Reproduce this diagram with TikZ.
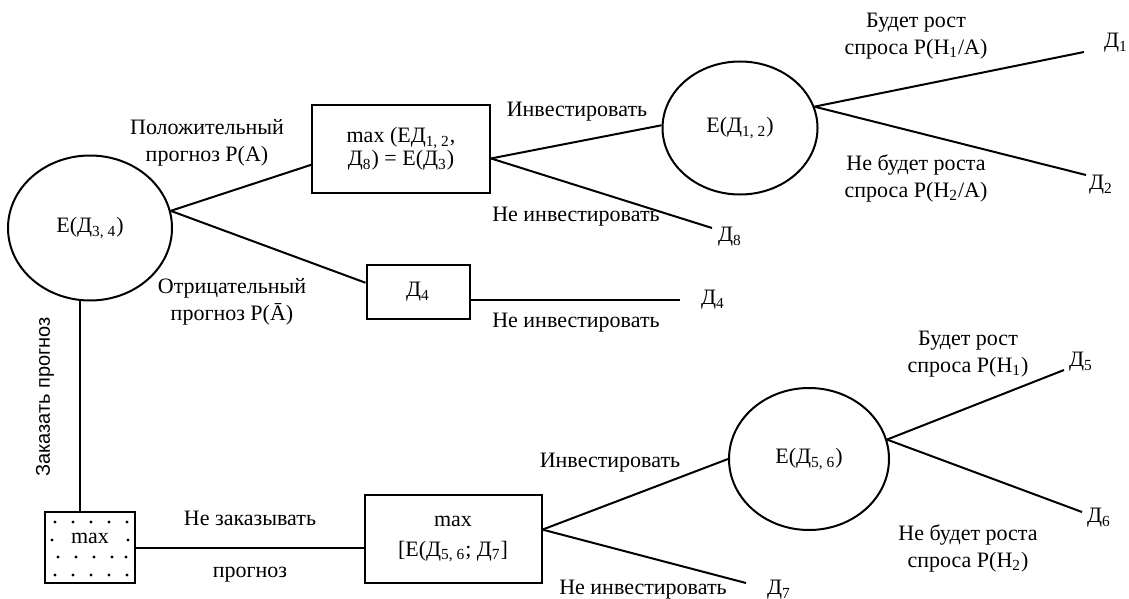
\documentclass[tikz,border=0pt]{standalone}
\usepackage{fontspec}
\setmainfont{Liberation Serif}
\newfontfamily\rotfont{Liberation Sans}
\usetikzlibrary{shapes, positioning, calc}
\newcommand{\Dn}[1]{Д\textsubscript{#1}}
\tikzset{block/.style={draw, rectangle, inner sep=1pt, align=center},
         chance/.style={draw, ellipse, inner sep=1pt},
         lbl/.style={align=center, inner sep=0pt},
         every node/.append style={font=\fontsize{11}{13.5}\selectfont}}

\begin{document}
\begin{tikzpicture}[x=0.5pt, y={(0pt,-0.5pt)}, line width=1pt]
        \useasboundingbox (0,0) rectangle (1129,599);

        % chance nodes and decision boxes
        \node[chance, minimum width=82pt, minimum height=72.5pt] (c34) at (90,228) {E(\Dn{3, 4})};
        \node[block, minimum width=89pt, minimum height=44pt, font=\fontsize{11}{9.5}\selectfont] (b1) at (401,149) {max (Е\Dn{1, 2},\\ \Dn{8}) = E(\Dn{3})};
        \node[block, minimum width=51.5pt, minimum height=27pt] (d4box) at (418,292) {\Dn{4}};
        \node[chance, minimum width=77.5pt, minimum height=66.5pt] (c12) at (740,128) {E(\Dn{1, 2})};
        \node[block, minimum width=45pt, minimum height=35.5pt] (mx) at (90,547.5) {};
        \node[block, minimum width=88.5pt, minimum height=44pt, font=\fontsize{11}{15}\selectfont] (b2) at (453,539) {max\\ {[}E(\Dn{5, 6}; \Dn{7}{]}};
        \node[chance, minimum width=80pt, minimum height=71pt] (c56) at (809,459) {E(\Dn{5, 6})};

        % dots of the max box
        \foreach \dx/\dy in {55/522, 73/522, 91/522, 109/522, 127/522,
                             52/540, 128/540,
                             58/557, 76/557, 94/557, 112/557, 126/557,
                             55/575, 73/575, 91/575, 109/575, 127/575}
            \fill (\dx,\dy) circle (0.8pt);
        \node[inner sep=0pt] (mxt) at (90,538) {max};

        % outcomes
        \coordinate (e1) at (1084,52);
        \coordinate (e2) at (1086,175);
        \coordinate (e8) at (712,228);
        \coordinate (e4) at (680,300);
        \coordinate (e5) at (1064,370);
        \coordinate (e6) at (1082,512);
        \coordinate (e7) at (746,583);
        \node (d1) at (1116,43) {\Dn{1}};
        \node (d2) at (1101,185) {\Dn{2}};
        \node (d8) at (730,237) {\Dn{8}};
        \node (d4) at (713,300) {\Dn{4}};
        \node (d5) at (1081,362) {\Dn{5}};
        \node (d6) at (1099,518) {\Dn{6}};
        \node (d7) at (779,590) {\Dn{7}};

        % branches
        \draw (c34.12) -- (b1.190);
        \draw (c34.12) -- (d4box.170);
        \draw (c34.262) -- (c34.262 |- mx.north);
        \draw (b1.354) -- (c12.178);
        \draw (b1.354) -- (e8);
        \draw (c12.16) -- (e1);
        \draw (c12.16) -- (e2);
        \draw (d4box.351) -- (d4box.351 -| e4);
        \draw (mx.east) -- (mx.east -| b2.west);
        \draw (b2.6) -- (c56.west);
        \draw (b2.6) -- (e7);
        \draw (c56.14) -- (e5);
        \draw (c56.14) -- (e6);

        % branch labels
        \node[lbl] (lpos) at (207,143) {Положительный\\ прогноз Р(А)};
        \node[lbl] (lneg) at (232,302) {Отрицательный\\ прогноз Р(Ā)};
        \node[lbl] (linv1) at (577,112) {Инвестировать};
        \node[lbl] (lnot1) at (576,217) {Не инвестировать};
        \node[lbl] (lgr1) at (916,36) {Будет рост\\ спроса P(H\textsubscript{1}/A)};
        \node[lbl] (lng1) at (916,178) {Не будет роста\\ спроса P(H\textsubscript{2}/A)};
        \node[lbl] (lnot4) at (576,323) {Не инвестировать};
        \node[lbl, rotate=90, font=\rotfont\fontsize{10}{12}\selectfont] (lord) at (45,397) {Заказать прогноз};
        \node[lbl] (lno) at (250,518) {Не заказывать};
        \node[lbl] (lno2) at (250,575) {прогноз};
        \node[lbl] (linv2) at (610,463) {Инвестировать};
        \node[lbl] (lnot2) at (643,590) {Не инвестировать};
        \node[lbl] (lgr2) at (968,354) {Будет рост\\ спроса P(H\textsubscript{1})};
        \node[lbl] (lng2) at (968,548) {Не будет роста\\ спроса P(H\textsubscript{2})};
    \end{tikzpicture}
\end{document}
